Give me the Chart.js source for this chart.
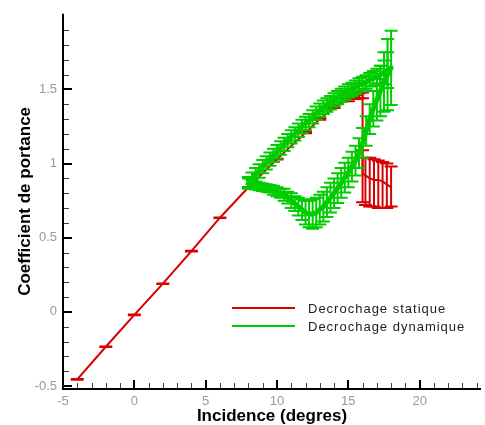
<!DOCTYPE html>
<html>
<head>
<meta charset="utf-8">
<script src="https://cdn.jsdelivr.net/npm/chart.js@4.4.1/dist/chart.umd.min.js"></script>
<style>
  html, body { margin: 0; padding: 0; background: #fff; }
  #wrap { width: 485px; height: 425px; position: relative; }
</style>
</head>
<body>
<div id="wrap"><canvas id="c"></canvas></div>
<script>
// Axis ticks (labelled values)
const xTicks = [-5, 0, 5, 10, 15, 20];
const yTicks = [-0.5, 0, 0.5, 1, 1.5];

// Static stall: incidence (deg), lift coefficient, error bar bounds
const staticIncidence = [-4, -2, 0, 2, 4, 6, 8, 10, 12, 13, 14, 15, 15.5, 15.75, 16, 16, 16.2, 16.5, 16.8, 17.1, 17.4, 17.7, 18];
const staticLift      = [-0.455, -0.235, -0.02, 0.19, 0.41, 0.635, 0.84, 1.03, 1.21, 1.30, 1.38, 1.43, 1.45, 1.46, 1.46, 0.93, 0.92, 0.90, 0.89, 0.89, 0.88, 0.86, 0.84];
const staticLow       = [-0.457, -0.237, -0.022, 0.188, 0.408, 0.633, 0.838, 1.027, 1.205, 1.295, 1.374, 1.42, 1.435, 1.44, 1.44, 0.74, 0.72, 0.71, 0.71, 0.70, 0.70, 0.70, 0.71];
const staticHigh      = [-0.453, -0.233, -0.018, 0.192, 0.412, 0.637, 0.842, 1.033, 1.215, 1.305, 1.386, 1.44, 1.465, 1.475, 1.48, 1.09, 1.04, 1.04, 1.03, 1.02, 1.01, 1.00, 0.98];

// Dynamic stall: one pitching cycle, upstroke then downstroke
const dynamicIncidence = [
  8, 8.25, 8.5, 8.75, 9, 9.25, 9.5, 9.75, 10, 10.25, 10.5, 10.75, 11, 11.25, 11.5, 11.75,
  12, 12.25, 12.5, 12.75, 13, 13.25, 13.5, 13.75, 14, 14.25, 14.5, 14.75, 15, 15.25, 15.5, 15.75,
  16, 16.25, 16.5, 16.75, 17, 17.25, 17.5, 17.75, 18,
  17.75, 17.5, 17.25, 17, 16.75, 16.5, 16.25, 16, 15.75, 15.5, 15.25, 15, 14.75, 14.5, 14.25,
  14, 13.75, 13.5, 13.25, 13, 12.75, 12.5, 12.25, 12, 11.75, 11.5, 11.25, 11, 10.75, 10.5, 10.25,
  10, 9.75, 9.5, 9.25, 9, 8.75, 8.5, 8.25, 8
];
const dynamicLift = [
  0.87, 0.90, 0.925, 0.95, 0.98, 1.005, 1.03, 1.055, 1.08, 1.105, 1.13, 1.155, 1.18, 1.20, 1.225, 1.25,
  1.27, 1.29, 1.315, 1.34, 1.36, 1.38, 1.395, 1.41, 1.43, 1.445, 1.46, 1.475, 1.49, 1.50, 1.515, 1.53,
  1.54, 1.55, 1.565, 1.575, 1.59, 1.60, 1.615, 1.63, 1.645,
  1.60, 1.55, 1.49, 1.43, 1.37, 1.30, 1.22, 1.14, 1.07, 1.02, 0.98, 0.94, 0.905, 0.87, 0.835,
  0.80, 0.77, 0.74, 0.71, 0.69, 0.67, 0.66, 0.66, 0.67, 0.69, 0.71, 0.73, 0.75, 0.77, 0.79, 0.80,
  0.81, 0.82, 0.83, 0.835, 0.84, 0.845, 0.85, 0.86, 0.87
];
const dynamicErr = [
  0.04, 0.04, 0.045, 0.045, 0.045, 0.045, 0.045, 0.045, 0.045, 0.045, 0.045, 0.045, 0.045, 0.045, 0.045, 0.045,
  0.045, 0.045, 0.045, 0.045, 0.045, 0.045, 0.045, 0.045, 0.045, 0.045, 0.045, 0.045, 0.045, 0.045, 0.045, 0.045,
  0.045, 0.045, 0.045, 0.05, 0.05, 0.06, 0.08, 0.12, 0.25,
  0.24, 0.20, 0.17, 0.14, 0.12, 0.10, 0.10, 0.10, 0.10, 0.10, 0.10, 0.10, 0.10, 0.10, 0.10,
  0.10, 0.10, 0.10, 0.10, 0.10, 0.10, 0.10, 0.09, 0.08, 0.07, 0.06, 0.05, 0.05, 0.04, 0.04, 0.03,
  0.03, 0.03, 0.025, 0.025, 0.025, 0.025, 0.025, 0.03, 0.03
];

const RED = '#d80000';
const GREEN = '#00cc00';
const FONT = '"Liberation Sans", Arial, Helvetica, sans-serif';

const staticPoints = staticIncidence.map((x, i) => ({ x, y: staticLift[i] }));
const dynamicPoints = dynamicIncidence.map((x, i) => ({ x, y: dynamicLift[i] }));

// Vertical error bars with horizontal caps, drawn right after their dataset
const errorBars = {
  id: 'errorBars',
  afterDatasetDraw(chart, args) {
    const ds = chart.data.datasets[args.index];
    if (!ds.errLow) return;
    const { ctx, chartArea: a, scales: { x, y } } = chart;
    ctx.save();
    ctx.beginPath();
    ctx.rect(a.left, a.top, a.right - a.left, a.bottom - a.top);
    ctx.clip();
    ctx.strokeStyle = ds.borderColor;
    ctx.lineWidth = ds.errLineWidth;
    const half = ds.capWidth / 2;
    ds.data.forEach((p, i) => {
      const px = x.getPixelForValue(p.x);
      const lo = y.getPixelForValue(ds.errLow[i]);
      const hi = y.getPixelForValue(ds.errHigh[i]);
      ctx.beginPath();
      ctx.moveTo(px, lo); ctx.lineTo(px, hi);
      ctx.moveTo(px - half, lo); ctx.lineTo(px + half, lo);
      ctx.moveTo(px - half, hi); ctx.lineTo(px + half, hi);
      ctx.stroke();
    });
    ctx.restore();
  }
};

// Axis lines, inward major/minor ticks and the in-plot legend
const frame = {
  id: 'frame',
  afterDraw(chart) {
    const { ctx, chartArea: a, scales: { x, y } } = chart;
    ctx.save();
    const isMajor = (v, list) => list.some(t => Math.abs(t - v) < 1e-6);
    // minor ticks
    ctx.strokeStyle = '#444';
    ctx.lineWidth = 1;
    ctx.beginPath();
    for (let v = -5; v <= 24; v += 1) {
      if (isMajor(v, xTicks)) continue;
      const px = Math.round(x.getPixelForValue(v)) + 0.5;
      ctx.moveTo(px, a.bottom); ctx.lineTo(px, a.bottom - 6);
    }
    for (let k = -5; k <= 19; k++) {
      const v = k / 10;
      if (isMajor(v, yTicks)) continue;
      const py = Math.round(y.getPixelForValue(v)) + 0.5;
      ctx.moveTo(a.left, py); ctx.lineTo(a.left + 6, py);
    }
    ctx.stroke();
    // major ticks
    ctx.strokeStyle = '#000';
    ctx.lineWidth = 2;
    ctx.beginPath();
    xTicks.forEach(v => {
      const px = Math.round(x.getPixelForValue(v));
      ctx.moveTo(px, a.bottom); ctx.lineTo(px, a.bottom - 9);
    });
    yTicks.forEach(v => {
      const py = Math.round(y.getPixelForValue(v));
      ctx.moveTo(a.left, py); ctx.lineTo(a.left + 9, py);
    });
    ctx.stroke();
    // axis lines
    ctx.beginPath();
    ctx.moveTo(a.left, a.top);
    ctx.lineTo(a.left, a.bottom);
    ctx.lineTo(a.right, a.bottom);
    ctx.stroke();
    // legend
    const entries = chart.data.datasets.slice().sort((p, q) => p.legendRank - q.legendRank);
    ctx.font = '13px ' + FONT;
    ctx.letterSpacing = '1px';
    ctx.textBaseline = 'middle';
    ctx.textAlign = 'left';
    entries.forEach((ds, i) => {
      const ly = 308 + i * 18;
      ctx.strokeStyle = ds.borderColor;
      ctx.lineWidth = 2;
      ctx.beginPath();
      ctx.moveTo(232, ly); ctx.lineTo(295, ly);
      ctx.stroke();
      ctx.fillStyle = '#222';
      ctx.fillText(ds.label, 308, ly + 1);
    });
    ctx.restore();
  }
};

new Chart(document.getElementById('c'), {
  type: 'scatter',
  data: {
    datasets: [
      {
        label: 'Decrochage dynamique',
        legendRank: 1,
        data: dynamicPoints,
        showLine: true,
        borderColor: GREEN,
        backgroundColor: GREEN,
        borderWidth: 5,
        borderJoinStyle: 'round',
        borderCapStyle: 'round',
        pointRadius: 0,
        tension: 0,
        errLow: dynamicLift.map((v, i) => v - dynamicErr[i]),
        errHigh: dynamicLift.map((v, i) => v + dynamicErr[i]),
        capWidth: 13,
        errLineWidth: 2
      },
      {
        label: 'Decrochage statique',
        legendRank: 0,
        data: staticPoints,
        showLine: true,
        borderColor: RED,
        backgroundColor: RED,
        borderWidth: 2,
        pointRadius: 0,
        tension: 0,
        errLow: staticLow,
        errHigh: staticHigh,
        capWidth: 13,
        errLineWidth: 2
      }
    ]
  },
  options: {
    responsive: true,
    maintainAspectRatio: false,
    animation: false,
    layout: { padding: { top: 10, right: 4, left: 0, bottom: 0 } },
    plugins: { legend: { display: false }, tooltip: { enabled: false } },
    scales: {
      x: {
        type: 'linear',
        min: -5,
        max: 24.3,
        grid: { display: false, drawTicks: false },
        border: { display: false },
        afterBuildTicks: s => { s.ticks = xTicks.map(v => ({ value: v })); },
        afterFit: s => { s.height = 36; },
        ticks: {
          autoSkip: false, maxRotation: 0, padding: 5,
          color: '#999', font: { family: FONT, size: 13 },
          callback: v => String(v)
        },
        title: {
          display: true, text: 'Incidence (degres)', color: '#000',
          font: { family: FONT, size: 17, weight: 'bold', lineHeight: 1 },
          padding: { top: 0, bottom: 0 }
        }
      },
      y: {
        type: 'linear',
        min: -0.52,
        max: 2.01,
        grid: { display: false, drawTicks: false },
        border: { display: false },
        afterBuildTicks: s => { s.ticks = yTicks.map(v => ({ value: v })); },
        afterFit: s => { s.width = 63; },
        ticks: {
          autoSkip: false, padding: 6,
          color: '#999', font: { family: FONT, size: 13 },
          callback: v => String(v)
        },
        title: {
          display: true, text: 'Coefficient de portance', color: '#000',
          font: { family: FONT, size: 17, weight: 'bold', lineHeight: 1 },
          padding: { top: 17, bottom: 0 }
        }
      }
    }
  },
  plugins: [errorBars, frame]
});
</script>
</body>
</html>
